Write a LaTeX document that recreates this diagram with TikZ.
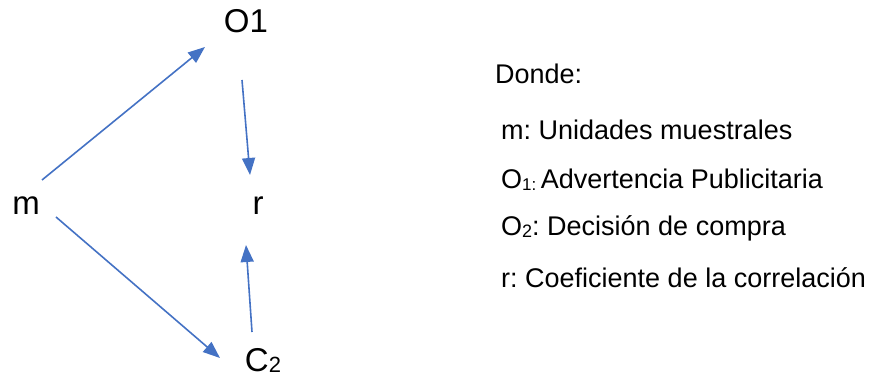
\documentclass[tikz,border=0pt]{standalone}
\usepackage{fontspec}
\setmainfont{Liberation Sans}
\usetikzlibrary{arrows.meta}
\definecolor{arrowblue}{HTML}{4472C4}
\frenchspacing
% small lowered index as used in O1, O2, C2
\newcommand\lowidx[2][17]{\raisebox{-1.5pt}{\fontsize{#1}{#1}\selectfont #2}}
\begin{document}
\begin{tikzpicture}[x=1pt,y=-1pt,
  varlabel/.style={font=\fontsize{33}{36}\selectfont, inner sep=0pt, anchor=base},
  legend/.style={font=\fontsize{27}{30}\selectfont, inner sep=0pt, anchor=base west},
  link/.style={draw=arrowblue, line width=1.6pt, -{Triangle[length=17pt,width=13pt]}}]
\useasboundingbox (0,0) rectangle (870,379);

% variables
\node[varlabel] (o1) at (246,33) {O1};
\node[varlabel] (m)  at (26,215) {m};
\node[varlabel] (r)  at (258,215) {r};
\node[varlabel] (c2) at (263,371) {C\lowidx[22]{2}};

% connector end points
\coordinate (m-up)   at (42,180);
\coordinate (o1-in)  at (205,47);
\coordinate (o1-out) at (242,80);
\coordinate (r-top)  at (250,175);
\coordinate (m-down) at (56,217);
\coordinate (c2-in)  at (220,358);
\coordinate (c2-out) at (252,332);
\coordinate (r-bot)  at (246,245);

\draw[link] (m-up) -- (o1-in);
\draw[link] (o1-out) -- (r-top);
\draw[link] (m-down) -- (c2-in);
\draw[link] (c2-out) -- (r-bot);

% legend
\node[legend] (l0) at (495,84)  {Donde:};
\node[legend] (l1) at (501,140) {m: Unidades muestrales};
\node[legend] (l2) at (501,189) {O\lowidx{1:}\,Advertencia Publicitaria};
\node[legend] (l3) at (501,236) {O\lowidx[18]{2}: Decisión de compra};
\node[legend] (l4) at (501,288) {r: Coeficiente de la correlación};
\end{tikzpicture}
\end{document}
